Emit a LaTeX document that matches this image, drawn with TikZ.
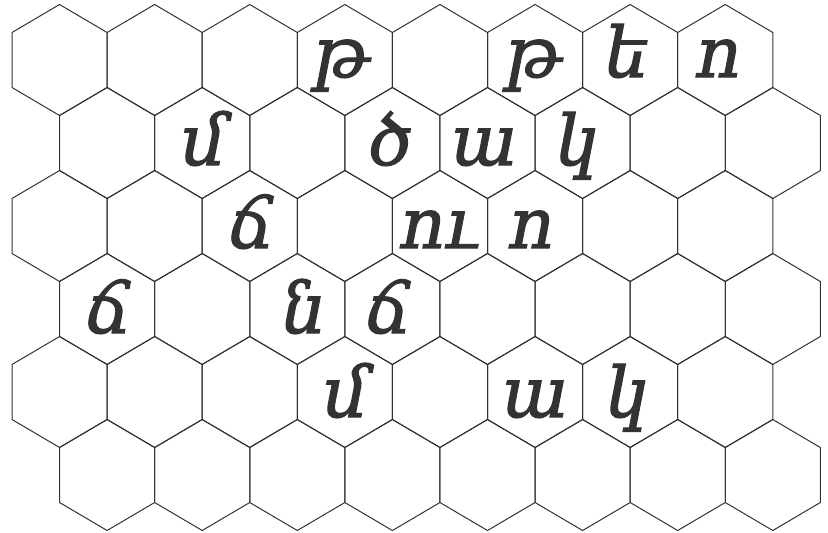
\documentclass[tikz,border=0pt]{standalone}
\usepackage{fontspec}
\newfontfamily\armfont[FakeBold=1.6]{DejaVu Serif}
\begin{document}
\begin{tikzpicture}[x=1pt,y=-1pt,
  hexcell/.style={draw=black!80, line width=1pt, line join=miter},
  letter/.style={font=\armfont\itshape\fontsize{70}{70}\selectfont, text=black!80, anchor=base, inner sep=0pt}]
\useasboundingbox (0,0) rectangle (828,533);
\fill[white] (0,0) rectangle (828,533);
\foreach \r in {1,...,6}{
  \foreach \c in {1,...,8}{
    \pgfmathsetmacro{\cx}{59.55+(\c-1)*95.1+mod(\r+1,2)*47.55}
    \pgfmathsetmacro{\cy}{60+(\r-1)*83}
    \coordinate (h\r-\c) at (\cx,\cy);
    \draw[hexcell] (\cx,\cy-55.5) -- (\cx+47.55,\cy-27.5) -- (\cx+47.55,\cy+27.5)
      -- (\cx,\cy+55.5) -- (\cx-47.55,\cy+27.5) -- (\cx-47.55,\cy-27.5) -- cycle;
  }
}
% row 1
\node[letter] (a1) at (341,77) {թ};
\node[letter] (a2) at (533,77) {թ};
\node[letter] (a3) at (627,77) {ե};
\node[letter] (a4) at (719,77) {ո};
% row 2
\node[letter] (b1) at (204,165) {մ};
\node[letter] (b2) at (391,165) {ծ};
\node[letter] (b3) at (484,165) {ա};
\node[letter] (b4) at (577,165) {կ};
% row 3
\node[letter] (c1) at (252,248) {ճ};
\node[letter] (c2) at (440,248) {ու};
\node[letter] (c3) at (532,248) {ո};
% row 4
\node[letter] (d1) at (109,333) {ճ};
\node[letter] (d2) at (304,333) {ն};
\node[letter] (d3) at (389,333) {ճ};
% row 5
\node[letter] (e1) at (346,417) {մ};
\node[letter] (e2) at (535,417) {ա};
\node[letter] (e3) at (627,417) {կ};
\end{tikzpicture}
\end{document}
